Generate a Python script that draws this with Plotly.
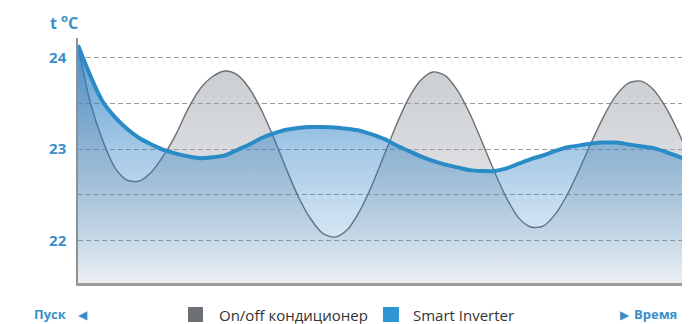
import plotly.graph_objects as go

# Шкала температуры
Y_MIN, Y_MAX = 21.54, 24.21
T_MIN, T_MAX = 0, 100
Y_TICKS = [22, 22.5, 23, 23.5, 24]
Y_TICK_TEXT = ["22", "", "23", "", "24"]

# время, % от шкалы
time = list(range(0, 101, 2))

# On/off кондиционер
onoff_v = [24.13, 23.51, 23.10, 22.80, 22.66, 22.65, 22.75, 22.93, 23.16, 23.44,
           23.66, 23.79, 23.85, 23.81, 23.66, 23.42, 23.12, 22.79, 22.48, 22.24,
           22.08, 22.04, 22.12, 22.32, 22.60, 22.93, 23.26, 23.55, 23.75, 23.84,
           23.80, 23.64, 23.39, 23.08, 22.76, 22.47, 22.25, 22.15, 22.16, 22.29,
           22.51, 22.79, 23.09, 23.37, 23.59, 23.72, 23.74, 23.65, 23.46, 23.20,
           22.90]

# Smart Inverter
inverter_v = [24.13, 23.80, 23.52, 23.35, 23.22, 23.12, 23.05, 22.99, 22.95, 22.92,
              22.90, 22.91, 22.93, 22.99, 23.05, 23.12, 23.17, 23.21, 23.23, 23.24,
              23.24, 23.235, 23.22, 23.20, 23.16, 23.11, 23.04, 22.98, 22.92, 22.87,
              22.83, 22.80, 22.77, 22.76, 22.76, 22.79, 22.84, 22.89, 22.93, 22.98,
              23.02, 23.04, 23.06, 23.07, 23.07, 23.05, 23.03, 23.01, 22.97, 22.92,
              22.87]

LEGEND_NAMES = ["On/off кондиционер", "Smart Inverter"]

_BLUE_TEXT = "#3a8fc8"
_BLUE_LINE = "#2a8cc6"
_GRAY_LINE = "#6c6f73"
_GRID = "#9c9c9c"

# окно 690x324, страница сдвинута отступом body (8px)
OFFSET = 8
W, H = 690, 324
PLOT_L, PLOT_R, PLOT_T, PLOT_B = 78, 690, 38, 283   # рамка графика на экране


def px_x(x):
    return (x - PLOT_L) / (PLOT_R - PLOT_L)


def px_y(y):
    return (PLOT_B - y) / (PLOT_B - PLOT_T)


def add_text(x, y, text, size, color, bold=False, xanchor="center"):
    fig.add_annotation(
        x=px_x(x), y=px_y(y), xref="paper", yref="paper",
        xanchor=xanchor, yanchor="middle", text=text, showarrow=False,
        font=dict(size=size, color=color, weight="bold" if bold else "normal"),
    )


fig = go.Figure()

fig.add_trace(go.Scatter(
    x=time, y=onoff_v, mode="lines", name=LEGEND_NAMES[0],
    line=dict(color=_GRAY_LINE, width=1.4, shape="spline", smoothing=0.8),
    fill="tozeroy",
    fillgradient=dict(
        type="vertical", start=Y_MIN, stop=Y_MAX,
        colorscale=[[0, "rgba(150,156,164,0.10)"],
                    [0.5, "rgba(150,156,164,0.35)"],
                    [1, "rgba(150,156,164,0.55)"]],
    ),
    hoverinfo="skip",
))

fig.add_trace(go.Scatter(
    x=time, y=inverter_v, mode="lines", name=LEGEND_NAMES[1],
    line=dict(color=_BLUE_LINE, width=4, shape="spline", smoothing=0.8),
    fill="tozeroy",
    fillgradient=dict(
        type="vertical", start=Y_MIN, stop=Y_MAX,
        colorscale=[[0, "rgba(40,125,195,0.05)"],
                    [0.17, "rgba(40,125,195,0.18)"],
                    [0.55, "rgba(40,125,195,0.42)"],
                    [1, "rgba(40,125,195,0.78)"]],
    ),
    hoverinfo="skip",
))

fig.update_layout(
    width=W - OFFSET, height=H - OFFSET,
    margin=dict(l=PLOT_L - OFFSET, r=W - PLOT_R, t=PLOT_T - OFFSET,
                b=H - PLOT_B),
    paper_bgcolor="white", plot_bgcolor="white",
    showlegend=False,
    font=dict(family="Open Sans, Arial, sans-serif", color="#333333"),
    xaxis=dict(range=[T_MIN, T_MAX], showgrid=False, zeroline=False,
               showticklabels=False, showline=True, linecolor="#9a9a9a",
               linewidth=2.5, fixedrange=True),
    yaxis=dict(range=[Y_MIN, Y_MAX], tickvals=Y_TICKS, ticktext=Y_TICK_TEXT,
               showgrid=True, gridcolor=_GRID, gridwidth=1.2,
               griddash="5px,3px", zeroline=False,
               showline=True, linecolor="#8e9194", linewidth=1.5,
               ticks="", ticklabelstandoff=7,
               tickfont=dict(size=15, color=_BLUE_TEXT, weight="bold"),
               fixedrange=True),
)

# заголовок оси
add_text(64, 22, "t <sup>o</sup>C", 16, _BLUE_TEXT, bold=True)

# подписи начала и конца шкалы времени
add_text(32, 314, "Пуск", 13, _BLUE_TEXT, bold=True, xanchor="left")
add_text(83, 314, "◀", 12, _BLUE_TEXT)
add_text(625, 314, "▶", 12, _BLUE_TEXT)
add_text(632, 314, "Время", 13, _BLUE_TEXT, bold=True, xanchor="left")

# легенда
for (x0, x1, color), (tx, name) in zip(
        [(188, 203, "#6d7075"), (383, 399, "#2f95d2")],
        [(217, LEGEND_NAMES[0]), (411, LEGEND_NAMES[1])]):
    fig.add_shape(type="rect", xref="paper", yref="paper",
                  x0=px_x(x0), x1=px_x(x1), y0=px_y(307), y1=px_y(322),
                  fillcolor=color, line=dict(width=0))
    add_text(tx, 314.5, name, 15, "#333333", xanchor="left")

fig.write_html("out.html")
